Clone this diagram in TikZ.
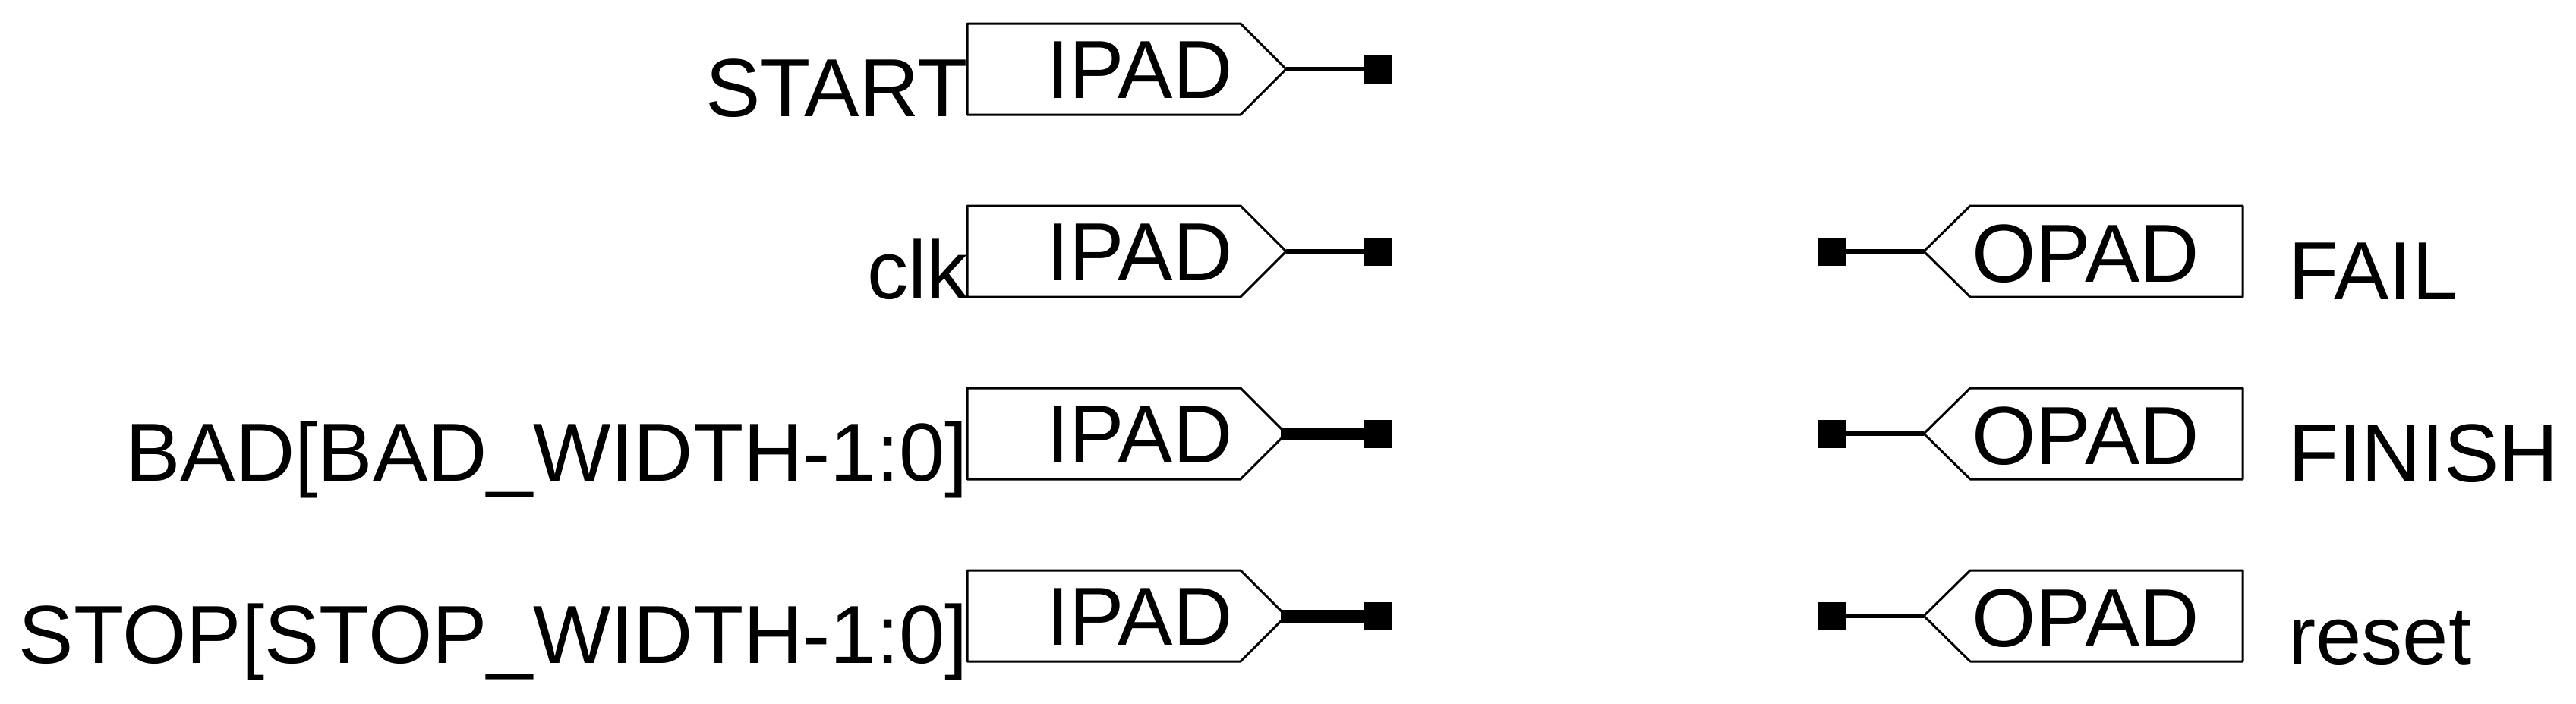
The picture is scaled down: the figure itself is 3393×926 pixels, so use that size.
\documentclass[tikz,border=0pt]{standalone}
\usepackage{fontspec}
\setmainfont{Liberation Sans}
\tikzset{
  padoutline/.style={draw=black,line width=3pt,line join=round,fill=white},
  padtext/.style={inner sep=0pt,anchor=base,font=\fontsize{108.5}{115}\selectfont},
  inlabel/.style={inner sep=0pt,anchor=base east,font=\fontsize{108.5}{115}\selectfont},
  outlabel/.style={inner sep=0pt,anchor=base west,font=\fontsize{108.5}{115}\selectfont},
  pin/.style={fill=black,inner sep=0pt,minimum width=37pt,minimum height=37pt},
  thinwire/.style={draw=black,line width=6pt},
  buswire/.style={draw=black,line width=17pt}
}
\begin{document}
\begin{tikzpicture}[x=1pt,y=-1pt]
\useasboundingbox (0,0) rectangle (3393,926);
% input pads
\foreach \r/\yy/\lab/\w/\off in {a/91/START/thinwire/0,b/331/clk/thinwire/0,c/571/{BAD[BAD\_WIDTH-1:0]}/buswire/7,d/811/{STOP[STOP\_WIDTH-1:0]}/buswire/7}{
  \draw[padoutline] (1274,\yy-60) -- (1634,\yy-60) -- (1694,\yy) -- (1634,\yy+60) -- (1274,\yy+60) -- cycle;
  \node[padtext] (ipad\r) at (1501,\yy+38) {IPAD};
  \node[inlabel] (inl\r) at (1275,\yy+62) {\lab};
  \node[pin] (ipin\r) at (1814,\yy) {};
  \coordinate (itip\r) at (1694-\off,\yy);
  \draw[\w] (itip\r) -- (ipin\r.center);
}
% output pads
\foreach \r/\yy/\lab in {a/331/FAIL,b/571/FINISH,c/811/reset}{
  \draw[padoutline] (2954,\yy-60) -- (2595,\yy-60) -- (2534,\yy) -- (2595,\yy+60) -- (2954,\yy+60) -- cycle;
  \node[padtext] (opad\r) at (2747,\yy+40) {OPAD};
  \node[outlabel] (outl\r) at (3014,\yy+63) {\lab};
  \node[pin] (opin\r) at (2413,\yy) {};
  \coordinate (otip\r) at (2534,\yy);
  \draw[thinwire] (otip\r) -- (opin\r.center);
}
\end{tikzpicture}
\end{document}
